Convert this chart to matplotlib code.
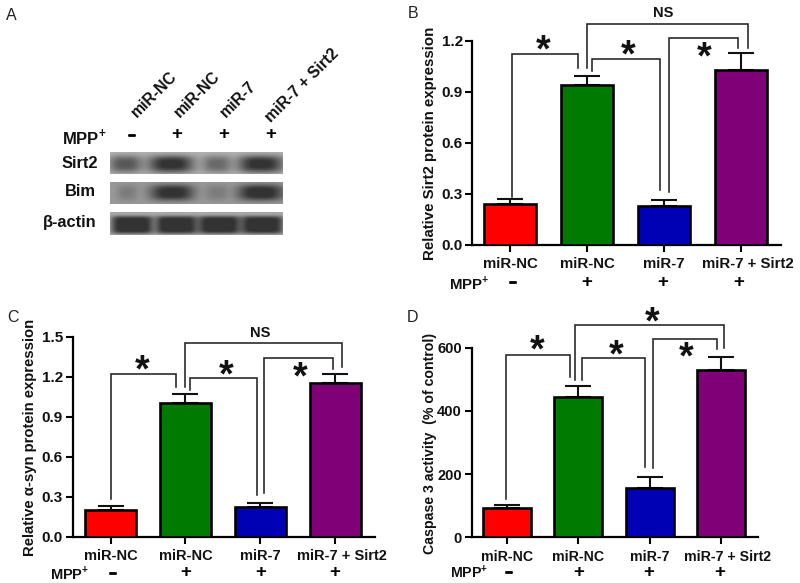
#imports
import numpy as np
import matplotlib
matplotlib.use("Agg")
import matplotlib.pyplot as plt
import matplotlib.patheffects as pe
from matplotlib.transforms import ScaledTranslation

plt.rcParams['font.family'] = ['Liberation Sans', 'DejaVu Sans']
plt.rcParams['mathtext.fontset'] = 'custom'
plt.rcParams['mathtext.bf'] = 'Liberation Sans:bold'
plt.rcParams['mathtext.rm'] = 'Liberation Sans:bold'

#data
grupos = ["miR-NC", "miR-NC", "miR-7", "miR-7 + Sirt2"]
sinais = ["-", "+", "+", "+"]
cores = ["#ff0000", "#007a00", "#0000b4", "#800078"]

sirt2_val = [0.24, 0.94, 0.225, 1.03]
sirt2_err = [0.03, 0.055, 0.035, 0.10]
asyn_val = [0.20, 1.00, 0.22, 1.15]
asyn_err = [0.03, 0.07, 0.03, 0.07]
casp_val = [92, 445, 155, 530]
casp_err = [11, 35, 35, 40]

#intensidade das bandas do western blot (0 = sem banda, 1 = banda escura)
blot_linhas = ["Sirt2", "Bim", "β-actin"]
blot_sirt2 = [0.75, 1.10, 0.60, 1.10]
blot_bim = [0.30, 1.15, 0.30, 1.20]
blot_actina = [1.15, 1.15, 1.15, 1.15]

W, H = 800, 583
fig = plt.figure(figsize=(W / 100, H / 100), dpi=100, facecolor="white")


def eixo_px(esq, topo, dir, base):
    return fig.add_axes([esq / W, 1 - base / H, (dir - esq) / W, (base - topo) / H])


def colchete(ax, x1, x2, topo, y1, y2):
    ax.plot([x1, x1, x2, x2], [y1, topo, topo, y2], color="#222222", lw=1.15,
            clip_on=False, zorder=5, solid_joinstyle="miter")


def texto_px(x, y, s, **kw):
    return fig.text(x / W, 1 - y / H, s, **kw)


def sinal_px(x, y, s):
    if s == "-":
        #traço curto engrossado com contorno, como no original
        t = texto_px(x, y, "–", fontsize=10, fontweight="bold", ha="center", va="center", color="black")
        t.set_path_effects([pe.withStroke(linewidth=1.3, foreground="black")])
    else:
        texto_px(x, y, s, fontsize=13.5, fontweight="bold", ha="center", va="center", color="black")


def painel(caixa, xlim, ylim, yticks, fmt, valores, erros, ylabel, ylabel_x, fs_y, fs_tick,
           fs_lab, bar_w, colchetes, sinal_x, sinal_y, mpp_x, mpp_y, desloc):
    ax = eixo_px(*caixa)
    x = np.arange(4)
    ax.bar(x, valores, width=bar_w, color=cores, edgecolor="black", linewidth=1.9, zorder=3)
    ax.errorbar(x, valores, yerr=[np.zeros(4), erros], fmt="none", ecolor="#111111",
                elinewidth=1.5, capsize=9.5, capthick=1.5, zorder=2)
    ax.set_xlim(*xlim)
    ax.set_ylim(*ylim)
    ax.set_yticks(yticks)
    ax.set_yticklabels([fmt % v for v in yticks], fontsize=fs_tick, fontweight="bold", color="#111111")
    ax.set_xticks(x)
    ax.set_xticklabels(grupos, fontsize=fs_lab, fontweight="bold", color="#111111")
    ax.tick_params(axis="both", width=1.5, length=5, pad=2)
    ax.tick_params(axis="x", pad=4)
    rotulos = ax.get_xticklabels()
    rotulos[3].set_transform(rotulos[3].get_transform() + ScaledTranslation(desloc / 100, 0, fig.dpi_scale_trans))
    for lado in ["top", "right"]:
        ax.spines[lado].set_visible(False)
    for lado in ["left", "bottom"]:
        ax.spines[lado].set_linewidth(1.6)
    for xs, s in zip(sinal_x, sinais):
        sinal_px(xs, sinal_y, s)
    for c in colchetes:
        colchete(ax, *c)
    texto_px(mpp_x, mpp_y, r"MPP$^{\mathbf{+}}$", fontsize=fs_lab, fontweight="bold",
             ha="left", va="center", color="#111111")
    texto_px(ylabel_x, (caixa[1] + caixa[3]) / 2 + 1, ylabel, rotation=90, fontsize=fs_y, fontweight="bold",
             ha="center", va="center", color="#111111")
    return ax


def estrela(x, y):
    #o asterisco fica no alto da caixa do glifo, por isso o centro é deslocado para baixo
    texto_px(x, y + 6.5, "*", fontsize=27, fontweight="bold", ha="center", va="center", color="#111111")


#letras dos paineis
texto_px(11, 15, "A", fontsize=11.5, ha="center", va="center", color="#222222")
texto_px(408, 13, "B", fontsize=11.5, ha="left", va="center", color="#222222")
texto_px(7, 317, "C", fontsize=11.5, ha="left", va="center", color="#222222")
texto_px(407, 317, "D", fontsize=11.5, ha="left", va="center", color="#222222")


#painel A
def blot(topo, base, intensidades, centros, larguras, alt, yc, expo, fundo):
    ax = eixo_px(110, topo, 283, base)
    xx, yy = np.meshgrid(np.linspace(110, 283, 173), np.linspace(0, 1, 24))
    img = np.full_like(xx, fundo)
    for cx, larg, v in zip(centros, larguras, intensidades):
        banda = np.exp(-np.abs((xx - cx) / larg) ** expo - np.abs((yy - yc) / alt) ** expo)
        img = img - banda * v * (fundo - 0.22)
    ax.imshow(np.clip(img, 0.2, 1), cmap="gray", vmin=0, vmax=1, aspect="auto", extent=[0, 1, 0, 1],
              interpolation="bilinear")
    ax.axis("off")


blot(152, 174, blot_sirt2, [125, 171, 217, 261], [16, 23, 14, 23], 0.40, 0.55, 3, 0.70)
blot(182, 204, blot_bim, [127, 172, 217, 261], [10, 22, 11, 23], 0.38, 0.48, 3, 0.60)
blot(212, 235, blot_actina, [132, 176.5, 219.5, 262.5], [21, 21, 21, 21], 0.40, 0.56, 6, 0.66)

for y, s, xd in zip([163, 192, 222], blot_linhas, [98, 96, 96]):
    texto_px(xd, y, s, fontsize=11.8, fontweight="bold", ha="right", va="center", color="#111111")
texto_px(62, 137, r"MPP$^{\mathbf{+}}$", fontsize=12, fontweight="bold", ha="left", va="center", color="#111111")
for x, s in zip([132, 177, 224, 271], sinais):
    sinal_px(x, 135, s)
for x, y, s in zip([139, 182, 228, 273], [120, 120, 120, 125], grupos):
    texto_px(x, y, s, rotation=45, rotation_mode="anchor", fontsize=11.3, fontweight="bold",
             ha="left", va="bottom", color="#111111")

#painel B
painel((472.5, 40.7, 781, 244.5), (-0.487, 3.52), (0, 1.2), [0, 0.3, 0.6, 0.9, 1.2], "%.1f",
       sirt2_val, sirt2_err, "Relative Sirt2 protein expression", 430, 10.8, 11, 10.8, 0.675,
       [(0.02, 0.88, 1.12, 0.28, 1.04), (1.07, 1.95, 1.094, 1.02, 0.32),
        (2.06, 2.96, 1.214, 0.31, 1.155), (1.0, 3.09, 1.30, 1.037, 1.155)],
       [513, 587, 663, 739], 282, 449, 283, 7)
estrela(543, 45)
estrela(628, 50)
estrela(704, 52)
texto_px(663, 13, "NS", fontsize=10.5, fontweight="bold", ha="center", va="center", color="#111111")

#painel C
painel((72.7, 336.7, 375, 536.7), (-0.505, 3.53), (0, 1.5), [0, 0.3, 0.6, 0.9, 1.2, 1.5], "%.1f",
       asyn_val, asyn_err, "Relative α-syn protein expression", 30, 10.7, 11, 10.5, 0.68,
       [(0.0, 0.88, 1.22, 0.28, 1.12), (1.06, 1.95, 1.19, 1.10, 0.31),
        (2.05, 2.97, 1.34, 0.33, 1.26), (0.99, 3.09, 1.45, 1.12, 1.27)],
       [113, 186, 261, 335], 573, 50, 573, 7)
estrela(141.7, 365)
estrela(225.7, 370)
estrela(300, 371.7)
texto_px(260, 333, "NS", fontsize=10.5, fontweight="bold", ha="center", va="center", color="#111111")

#painel D
painel((471.7, 347.7, 757.7, 537.3), (-0.495, 3.516), (0, 600), [0, 200, 400, 600], "%d",
       casp_val, casp_err, "Caspase 3 activity  (% of control)", 430, 10.2, 10.5, 10.2, 0.675,
       [(-0.02, 0.88, 577, 120, 506), (1.05, 1.94, 567, 498, 223),
        (2.05, 2.95, 627, 220, 595), (0.96, 3.05, 671, 498, 599)],
       [509, 579, 649, 720], 572, 450, 573, 7)
estrela(536.7, 345)
estrela(616, 350)
estrela(686, 351.7)
estrela(652.3, 317)

plt.savefig("out.png", dpi=100)
